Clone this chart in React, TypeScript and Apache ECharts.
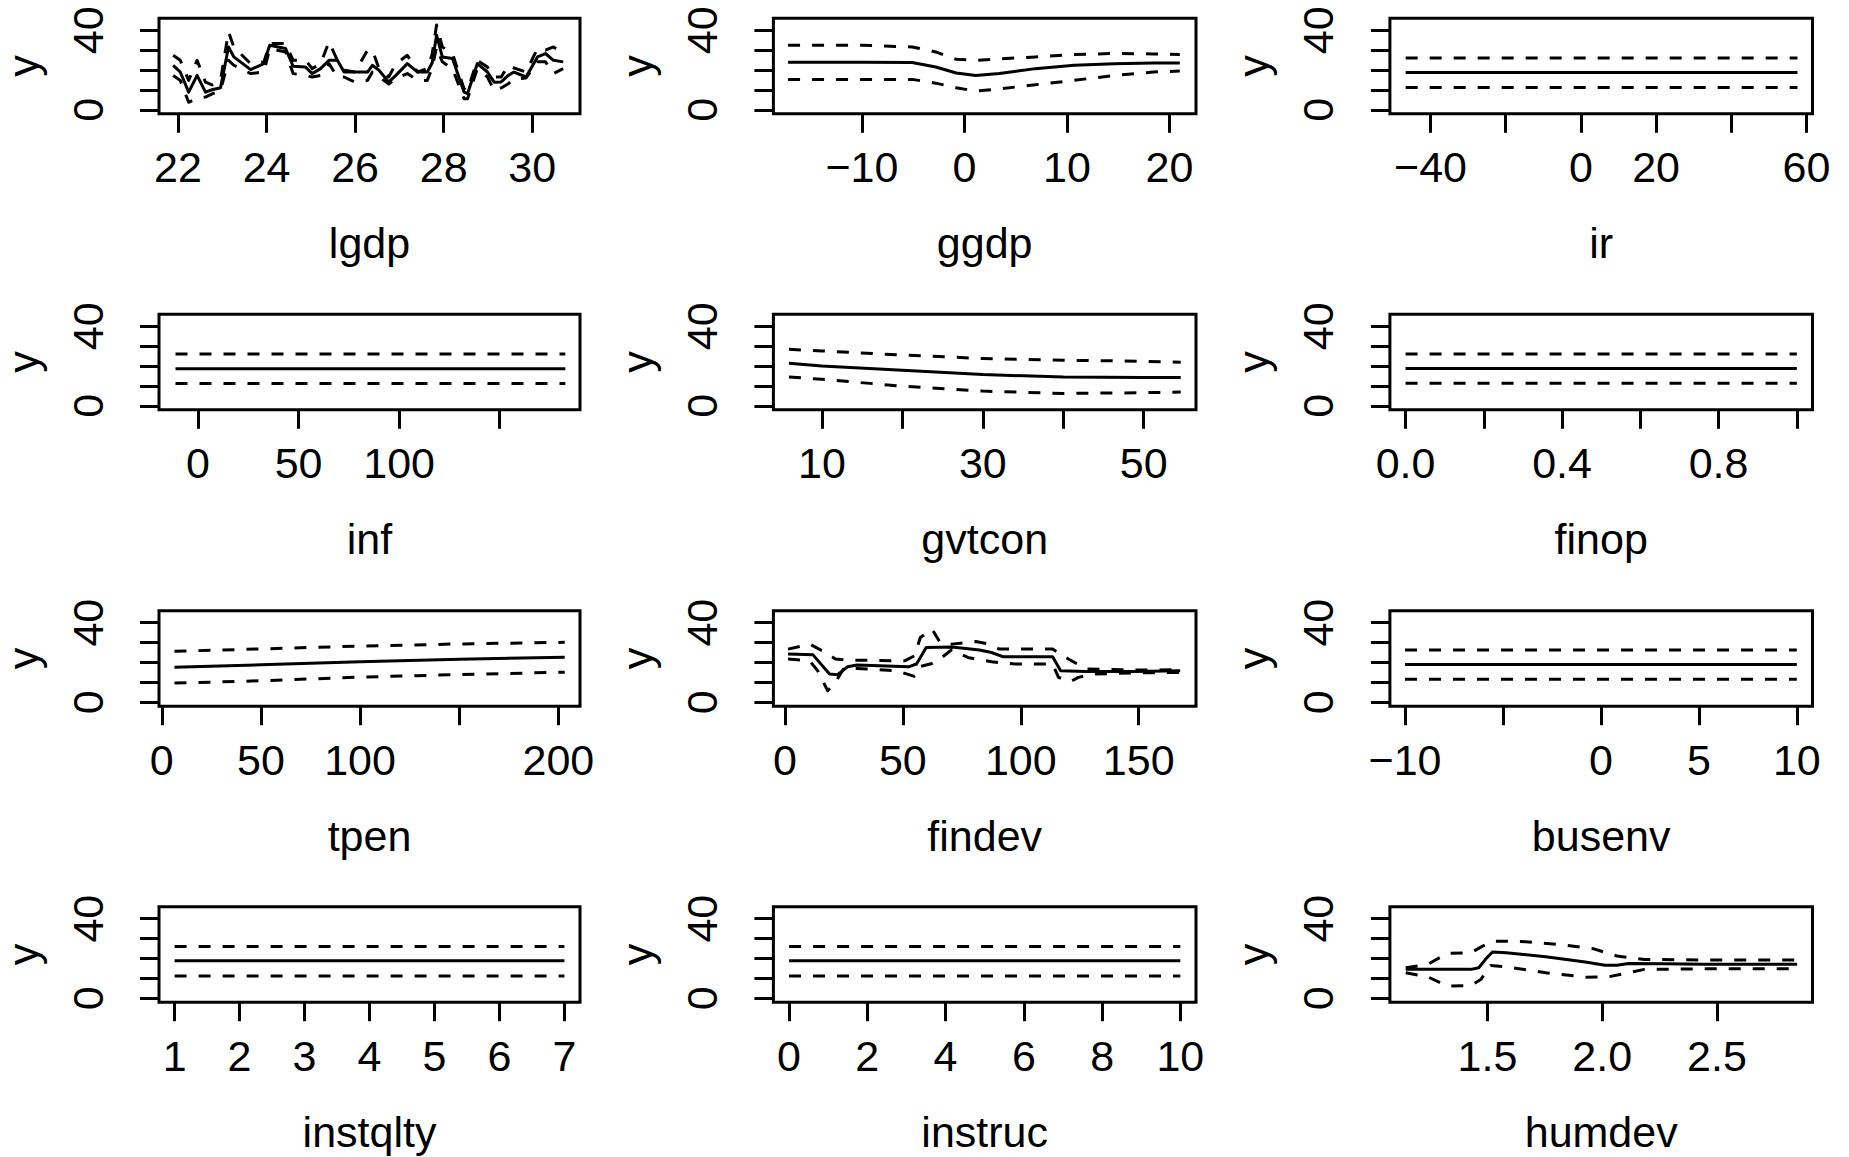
import React, { useEffect, useRef } from "react";
import * as echarts from "echarts";

const FONT = '"Liberation Sans", Arial, Helvetica, sans-serif';
const FS = 43;

// ---------- data ----------
const lgdpX = [21.89, 22.05, 22.24, 22.43, 22.62, 22.77, 22.96, 23.14, 23.26, 23.64, 23.94, 24.07, 24.43, 24.6, 24.88, 25.03, 25.22, 25.41, 25.6, 25.75, 26.0, 26.28, 26.39, 26.54, 26.76, 26.92, 27.18, 27.41, 27.63, 27.74, 27.84, 27.97, 28.2, 28.46, 28.54, 28.76, 28.99, 29.14, 29.3, 29.46, 29.59, 29.86, 30.12, 30.3, 30.48, 30.7];
const lgdpFit = [22.3, 19.0, 8.9, 17.3, 8.9, 10.1, 11.1, 31.6, 26.6, 20.2, 23.2, 32.5, 30.8, 21.9, 21.5, 18.2, 20.7, 24.9, 24.9, 19.0, 19.0, 19.0, 22.4, 19.9, 13.9, 17.3, 23.2, 19.0, 19.0, 23.5, 37.5, 26.6, 25.8, 8.9, 8.1, 23.2, 19.0, 13.9, 14.0, 17.3, 19.0, 16.5, 26.6, 28.3, 24.9, 24.1];
const lgdpUp = [27.4, 24.9, 14.8, 24.9, 13.9, 12.5, 14.8, 39.2, 31.6, 23.2, 24.1, 33.3, 33.3, 24.9, 24.9, 20.7, 23.2, 34.2, 24.9, 19.9, 19.0, 30.0, 30.0, 20.7, 16.5, 23.2, 27.4, 19.0, 20.7, 28.0, 42.6, 31.6, 28.3, 10.6, 9.7, 24.9, 21.5, 16.5, 16.5, 22.4, 21.0, 19.0, 30.8, 30.0, 31.6, 28.3];
const lgdpLo = [17.3, 14.8, 3.8, 5.7, 6.4, 8.0, 9.7, 24.9, 22.4, 18.2, 19.0, 30.8, 29.1, 18.2, 17.3, 16.5, 17.3, 23.2, 16.5, 16.5, 13.9, 14.8, 19.0, 16.5, 13.0, 15.7, 18.2, 14.8, 14.8, 21.0, 31.6, 24.1, 20.7, 5.6, 5.6, 20.7, 16.5, 9.7, 11.0, 13.1, 15.5, 16.0, 24.1, 24.1, 18.2, 20.7];

const ggdpX = [-17.2, -10, -5.1, -2.8, -0.8, 1.1, 3.4, 6.9, 10.7, 14.6, 18.4, 21.0];
const ggdpFit = [23.9, 23.9, 23.8, 21.5, 18.5, 17.3, 18.2, 20.7, 22.4, 23.2, 23.5, 23.5];
const ggdpUp = [32.5, 32.5, 31.6, 29.1, 25.4, 24.9, 25.6, 26.6, 27.8, 28.3, 28.1, 27.8];
const ggdpLo = [15.3, 15.3, 15.3, 13.4, 11.1, 9.4, 10.5, 12.6, 14.8, 17.3, 19.0, 19.5];

const irX = [-46.6, 57.6];
const irFit = [18.7, 18.7];
const irUp = [26.1, 26.1];
const irLo = [11.2, 11.2];

const infX = [-11.2, 182.6];
const infFit = [18.6, 18.6];
const infUp = [26.0, 26.0];
const infLo = [11.2, 11.2];

const gvtconX = [5.9, 10, 20, 30, 40, 50, 54.6];
const gvtconFit = [21.4, 20.0, 17.9, 15.7, 14.5, 14.2, 14.2];
const gvtconUp = [28.4, 27.6, 25.5, 23.8, 22.9, 22.4, 21.9];
const gvtconLo = [14.5, 13.3, 9.9, 7.4, 6.2, 6.6, 6.9];

const finopX = [0, 1];
const finopFit = [18.7, 18.7];
const finopUp = [26.1, 26.1];
const finopLo = [11.3, 11.3];

const tpenX = [6.4, 50, 100, 150, 203.2];
const tpenFit = [17.6, 18.8, 20.4, 21.6, 22.6];
const tpenUp = [25.6, 26.8, 28.2, 29.3, 30.1];
const tpenLo = [9.6, 10.8, 12.6, 13.9, 15.1];

const findevX = [1.3, 11.9, 18.9, 22.3, 26.5, 30.6, 52.4, 55.8, 59.9, 70.8, 82.5, 87.6, 92.6, 113.5, 116.9, 127.7, 147.8, 167.6];
const findevFit = [24.2, 23.8, 14.2, 13.8, 17.8, 18.7, 17.8, 19.2, 27.5, 27.8, 26.2, 25.0, 22.8, 22.8, 15.8, 15.5, 15.5, 15.8];
const findevUpX = [1.3, 10.5, 17.2, 21.4, 26.5, 50.7, 54.9, 57.4, 62.4, 65.8, 70.8, 80.9, 86.7, 90.9, 97.6, 113.5, 120.2, 127.7, 147.8, 167.6];
const findevUp = [26.7, 29.2, 25.0, 21.7, 21.2, 20.8, 23.3, 32.5, 36.7, 30.0, 29.2, 30.5, 29.2, 26.7, 26.7, 26.7, 21.7, 16.7, 16.2, 16.3];
const findevLoX = [1.3, 10.5, 13.9, 18.1, 21.4, 24.8, 30.6, 47.4, 54.9, 57.4, 62.4, 66.0, 70.8, 77.5, 87.6, 97.6, 113.5, 116.0, 121.0, 124.4, 131.0, 147.8, 167.6];
const findevLo = [21.7, 20.8, 15.8, 5.8, 10.0, 16.7, 17.0, 15.8, 13.0, 18.0, 19.5, 22.0, 26.5, 22.5, 20.3, 19.2, 19.2, 12.5, 10.3, 12.5, 14.2, 14.7, 15.0];

const busenvX = [-10, 10];
const busenvFit = [18.9, 18.9];
const busenvUp = [26.2, 26.2];
const busenvLo = [11.5, 11.5];

const instqltyX = [1, 7];
const instqltyFit = [18.8, 18.8];
const instqltyUp = [26.0, 26.0];
const instqltyLo = [11.2, 11.2];

const instrucX = [0, 10];
const instrucFit = [18.8, 18.8];
const instrucUp = [26.0, 26.0];
const instrucLo = [11.2, 11.2];

const humdevX = [1.144, 1.428, 1.462, 1.497, 1.522, 1.582, 1.754, 1.926, 2.012, 2.064, 2.115, 2.27, 2.442, 2.613, 2.849];
const humdevFit = [14.5, 14.5, 15.3, 20.3, 23.2, 22.9, 20.8, 18.2, 16.6, 16.6, 17.5, 17.3, 17.1, 17.1, 17.1];
const humdevUpX = [1.144, 1.239, 1.325, 1.428, 1.479, 1.531, 1.668, 1.84, 1.96, 2.064, 2.184, 2.442, 2.849];
const humdevUp = [15.3, 17.0, 22.5, 22.9, 26.2, 28.7, 28.4, 26.7, 24.9, 21.2, 19.5, 19.2, 19.2];
const humdevLoX = [1.144, 1.239, 1.325, 1.428, 1.471, 1.514, 1.582, 1.754, 1.926, 2.029, 2.098, 2.184, 2.442, 2.849];
const humdevLo = [12.8, 10.8, 6.1, 6.4, 9.4, 16.5, 15.8, 12.8, 10.6, 10.8, 12.4, 14.5, 14.8, 14.8];

const yTicks = [0, 10, 20, 30, 40];
const yLabels = [0, 40];

// ---------- panels ----------
type Panel = {
  name: string; min: number; max: number; ticks: number[]; labels: number[]; dec?: number;
  fx: number[]; fit: number[]; ux: number[]; up: number[]; lx: number[]; lo: number[];
};

const panels: Panel[] = [
  { name: "lgdp", min: 21.57, max: 31.08, ticks: [22, 24, 26, 28, 30], labels: [22, 24, 26, 28, 30], fx: lgdpX, fit: lgdpFit, ux: lgdpX, up: lgdpUp, lx: lgdpX, lo: lgdpLo },
  { name: "ggdp", min: -18.63, max: 22.58, ticks: [-10, 0, 10, 20], labels: [-10, 0, 10, 20], fx: ggdpX, fit: ggdpFit, ux: ggdpX, up: ggdpUp, lx: ggdpX, lo: ggdpLo },
  { name: "ir", min: -50.8, max: 61.6, ticks: [-40, -20, 0, 20, 40, 60], labels: [-40, 0, 20, 60], fx: irX, fit: irFit, ux: irX, up: irUp, lx: irX, lo: irLo },
  { name: "inf", min: -19.4, max: 189.9, ticks: [0, 50, 100, 150], labels: [0, 50, 100], fx: infX, fit: infFit, ux: infX, up: infUp, lx: infX, lo: infLo },
  { name: "gvtcon", min: 3.97, max: 56.5, ticks: [10, 20, 30, 40, 50], labels: [10, 30, 50], fx: gvtconX, fit: gvtconFit, ux: gvtconX, up: gvtconUp, lx: gvtconX, lo: gvtconLo },
  { name: "finop", min: -0.04, max: 1.04, ticks: [0, 0.2, 0.4, 0.6, 0.8, 1.0], labels: [0, 0.4, 0.8], dec: 1, fx: finopX, fit: finopFit, ux: finopX, up: finopUp, lx: finopX, lo: finopLo },
  { name: "tpen", min: -1.4, max: 210.9, ticks: [0, 50, 100, 150, 200], labels: [0, 50, 100, 200], fx: tpenX, fit: tpenFit, ux: tpenX, up: tpenUp, lx: tpenX, lo: tpenLo },
  { name: "findev", min: -4.9, max: 174.3, ticks: [0, 50, 100, 150], labels: [0, 50, 100, 150], fx: findevX, fit: findevFit, ux: findevUpX, up: findevUp, lx: findevLoX, lo: findevLo },
  { name: "busenv", min: -10.77, max: 10.8, ticks: [-10, -5, 0, 5, 10], labels: [-10, 0, 5, 10], fx: busenvX, fit: busenvFit, ux: busenvX, up: busenvUp, lx: busenvX, lo: busenvLo },
  { name: "instqlty", min: 0.76, max: 7.24, ticks: [1, 2, 3, 4, 5, 6, 7], labels: [1, 2, 3, 4, 5, 6, 7], fx: instqltyX, fit: instqltyFit, ux: instqltyX, up: instqltyUp, lx: instqltyX, lo: instqltyLo },
  { name: "instruc", min: -0.4, max: 10.4, ticks: [0, 2, 4, 6, 8, 10], labels: [0, 2, 4, 6, 8, 10], fx: instrucX, fit: instrucFit, ux: instrucX, up: instrucUp, lx: instrucX, lo: instrucLo },
  { name: "humdev", min: 1.075, max: 2.916, ticks: [1.5, 2.0, 2.5], labels: [1.5, 2.0, 2.5], dec: 1, fx: humdevX, fit: humdevFit, ux: humdevUpX, up: humdevUp, lx: humdevLoX, lo: humdevLo },
];

const COL_LEFT = [157.4, 773.4, 1389.9];
const ROW_TOP = [18.3, 314.3, 610.7, 906.7];
const BOX_W = 422.6;
const BOX_H = 95.5;
const LW = 3;

const fmt = (dec?: number) => (v: number) => {
  const s = dec ? v.toFixed(dec) : String(Math.round(v * 1000) / 1000);
  return s.replace("-", "\u2212");
};

function buildOption() {
  const grid: any[] = [];
  const xAxis: any[] = [];
  const yAxis: any[] = [];
  const series: any[] = [];
  const txt = { color: "#000", fontFamily: FONT, fontSize: FS };
  panels.forEach((p, i) => {
    const r = Math.floor(i / 3);
    const c = i % 3;
    grid.push({
      left: COL_LEFT[c], top: ROW_TOP[r], width: BOX_W, height: BOX_H,
      show: true, borderColor: "#000", borderWidth: LW, backgroundColor: "transparent",
    });
    xAxis.push({
      type: "value", gridIndex: i, min: p.min, max: p.max,
      name: p.name, nameLocation: "middle", nameGap: 108, nameTextStyle: { ...txt },
      axisLine: { show: false, onZero: false }, splitLine: { show: false },
      axisTick: { show: true, length: 19, lineStyle: { color: "#000", width: LW }, customValues: p.ticks },
      axisLabel: { ...txt, margin: 32, customValues: p.labels, formatter: fmt(p.dec) },
    });
    yAxis.push({
      type: "value", gridIndex: i, min: -2, max: 46,
      name: "y", nameLocation: "middle", nameGap: 115, nameRotate: 90, nameTextStyle: { ...txt },
      axisLine: { show: false, onZero: false }, splitLine: { show: false },
      axisTick: { show: true, length: 19, lineStyle: { color: "#000", width: LW }, customValues: yTicks },
      axisLabel: { ...txt, margin: 50, rotate: 90, customValues: yLabels, formatter: fmt() },
    });
    const mk = (xs: number[], ys: number[], dashed: boolean) => ({
      type: "line", xAxisIndex: i, yAxisIndex: i, silent: true, symbol: "none", showSymbol: false,
      data: xs.map((x, k) => [x, ys[k]]),
      lineStyle: { color: "#000", width: LW, type: dashed ? [12, 12] : "solid", cap: "butt", join: "round" },
    });
    series.push(mk(p.fx, p.fit, false));
    series.push(mk(p.ux, p.up, true));
    series.push(mk(p.lx, p.lo, true));
  });
  return { animation: false, backgroundColor: "#fff", grid, xAxis, yAxis, series };
}

export default function App() {
  const ref = useRef<HTMLDivElement>(null);
  useEffect(() => {
    if (!ref.current) return;
    const chart = echarts.init(ref.current, null, { renderer: "svg" });
    chart.setOption(buildOption());
    return () => chart.dispose();
  }, []);
  return (
    <div
      ref={ref}
      style={{ position: "absolute", left: 0, top: 0, width: 1849, height: 1157, background: "#fff" }}
    />
  );
}
